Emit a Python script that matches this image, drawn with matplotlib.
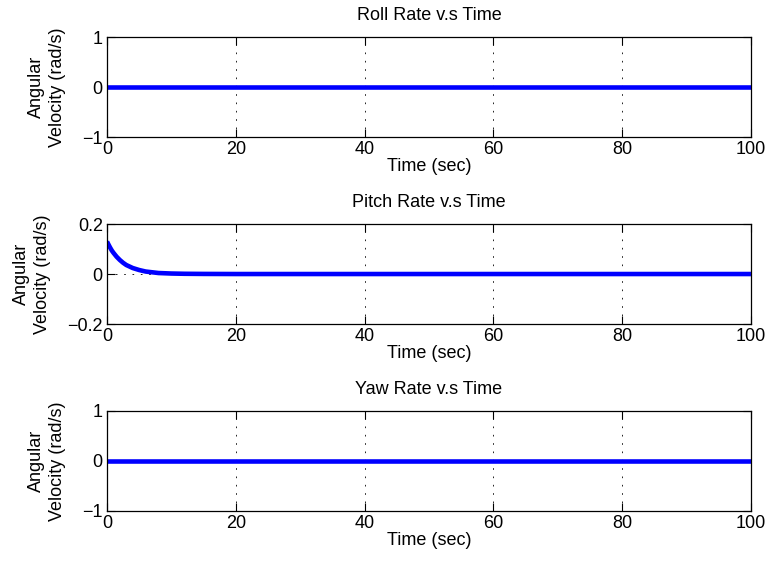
import numpy as np
import matplotlib
matplotlib.use('Agg')
import matplotlib.pyplot as plt

plt.rcParams['font.family'] = ['Liberation Sans', 'DejaVu Sans']
plt.rcParams['font.size'] = 13

# body rates from the simulation (rad/s)
t_roll = [0, 100]
roll_rate = [0, 0]

t_pitch = [0, 0.25, 0.5, 0.75, 1, 1.5, 2, 2.5, 3, 4, 5, 6, 7, 8, 10, 12, 15, 20, 100]
pitch_rate = [0.13, 0.117, 0.105, 0.094, 0.085, 0.069, 0.056, 0.045, 0.036, 0.024,
              0.016, 0.010, 0.007, 0.004, 0.002, 0.001, 0.0004, 0, 0]

t_yaw = [0, 100]
yaw_rate = [0, 0]

titles = ['Roll Rate v.s Time', 'Pitch Rate v.s Time', 'Yaw Rate v.s Time']
yticks = [[-1, 0, 1], [-0.2, 0, 0.2], [-1, 0, 1]]
xticks = [0, 20, 40, 60, 80, 100]

fig = plt.figure(figsize=(7.68, 5.65), dpi=100)
bottoms = [0.7575, 0.4265, 0.0956]
series = [(t_roll, roll_rate), (t_pitch, pitch_rate), (t_yaw, yaw_rate)]

for i, (t, w) in enumerate(series):
    ax = fig.add_axes([0.1393, bottoms[i], 0.8385, 0.177])
    ax.plot(t, w, color='blue', linewidth=3.3, solid_capstyle='butt')
    ax.set_xlim(0, 100)
    ax.set_ylim(yticks[i][0], yticks[i][-1])
    ax.set_xticks(xticks)
    ax.set_yticks(yticks[i])
    ax.set_yticklabels([('%g' % v).replace('-', '\u2212') for v in yticks[i]])
    ax.grid(True, color='black', linestyle=(0, (2, 8)), linewidth=0.6)
    ax.set_axisbelow(True)
    ax.tick_params(direction='in', length=6, width=0.8, top=True, right=True, pad=3)
    for s in ax.spines.values():
        s.set_linewidth(0.9)
    ax.set_title(titles[i], fontsize=13, pad=12)
    ax.set_xlabel('Time (sec)', labelpad=0)
    ax.set_ylabel('Angular\nVelocity (rad/s)', labelpad=12, linespacing=1.25)

fig.savefig('out.png', dpi=100)
